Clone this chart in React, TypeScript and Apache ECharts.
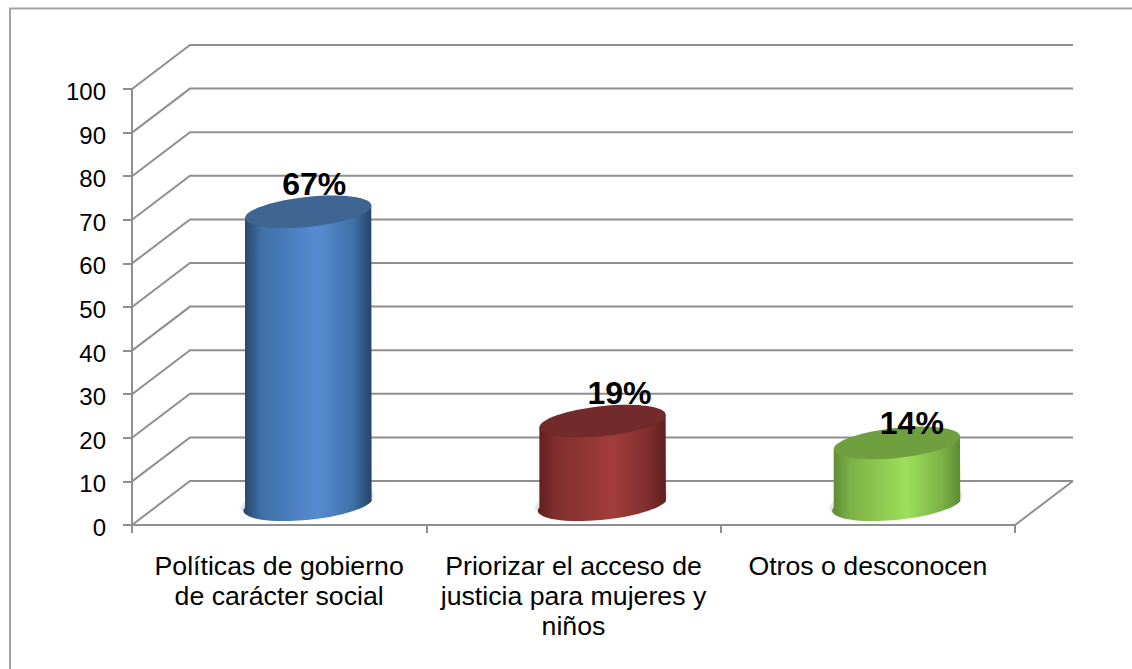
import React, { useEffect, useRef } from "react";
import * as echarts from "echarts";

const categories = [
  "Políticas de gobierno\nde carácter social",
  "Priorizar el acceso de\njusticia para mujeres y\nniños",
  "Otros o desconocen",
];
const shares = [67, 19, 14];
const wallTicks = [0, 10, 20, 30, 40, 50, 60, 70, 80, 90, 100];

const palettes = [
  { edge: "#274368", mid: "#3f70a8", light: "#578cd2", top: "#3f6693" },
  { edge: "#5f1f1e", mid: "#7f2f2e", light: "#a23d3b", top: "#722b2a" },
  { edge: "#5c8a32", mid: "#7cb146", light: "#9ddf5a", top: "#6f9f3f" },
];
const labelOffsets = [
  [6, -27],
  [17, -27],
  [15, -19],
];

const DEPTH_X = 58;
const DEPTH_Y = -44;
const GRID_COLOR = "#8f8f8f";
const FONT = '"Liberation Sans", Arial, sans-serif';

function renderWall(params: any, api: any) {
  const v = api.value(1);
  const cs = params.coordSys;
  const y = api.coord([0, v])[1];
  const x0 = cs.x;
  const x1 = cs.x + cs.width;
  const children: any[] = [
    {
      type: "polyline",
      shape: {
        points: [
          [x0, y],
          [x0 + DEPTH_X, y + DEPTH_Y],
          [x1 + DEPTH_X, y + DEPTH_Y],
        ],
      },
      style: { fill: "none", stroke: GRID_COLOR, lineWidth: 2 },
    },
  ];
  if (v === 0) {
    children.push({
      type: "line",
      shape: { x1: x1, y1: y, x2: x1 + DEPTH_X, y2: y + DEPTH_Y },
      style: { stroke: GRID_COLOR, lineWidth: 2 },
    });
  }
  return { type: "group", children };
}

function renderCylinder(params: any, api: any) {
  const i = api.value(0);
  const v = api.value(1);
  const pal = palettes[i];
  const band = api.size([1, 0])[0];
  const top = api.coord([i, v]);
  const base = api.coord([i, 0]);
  const cx = top[0] + DEPTH_X / 2;
  const topY = top[1] + DEPTH_Y / 2 + 1;
  const baseY = base[1] + DEPTH_Y / 2 - 2;
  const halfW = band * 0.2145;
  const b = 15;
  const rotDeg = 6;
  const th = (rotDeg * Math.PI) / 180;
  const s = Math.sin(th);
  const c = Math.cos(th);
  const a = Math.sqrt((halfW * halfW - b * b * s * s) / (c * c));
  const dy = ((a * a - b * b) * s * c) / halfW;
  const bodyPath =
    `M${cx - halfW} ${topY + dy}L${cx - halfW} ${baseY + dy}` +
    `A${a} ${b} ${-rotDeg} 0 0 ${cx + halfW} ${baseY - dy}L${cx + halfW} ${topY - dy}Z`;
  const off = labelOffsets[i];
  return {
    type: "group",
    children: [
      {
        type: "ellipse",
        x: cx - 1,
        y: baseY + 0.5,
        rotation: th,
        shape: { cx: 0, cy: 0, rx: a + 3, ry: b },
        style: { fill: "#e6e6e6", shadowBlur: 2, shadowColor: "rgba(190,190,190,0.6)" },
      },
      {
        type: "path",
        shape: { pathData: bodyPath },
        style: {
          fill: new echarts.graphic.LinearGradient(0, 0, 1, 0, [
            { offset: 0, color: pal.edge },
            { offset: 0.14, color: pal.mid },
            { offset: 0.58, color: pal.light },
            { offset: 0.86, color: pal.mid },
            { offset: 1, color: pal.edge },
          ]),
        },
      },
      {
        type: "ellipse",
        x: cx,
        y: topY,
        rotation: th,
        shape: { cx: 0, cy: 0, rx: a, ry: b },
        style: { fill: pal.top },
      },
      {
        type: "text",
        x: cx + off[0],
        y: topY - 1 + off[1],
        style: {
          text: `${v}%`,
          fontFamily: FONT,
          fontSize: 32,
          fontWeight: "bold",
          fill: "#000",
          align: "center",
          verticalAlign: "middle",
        },
      },
    ],
  };
}

export default function App() {
  const ref = useRef<HTMLDivElement>(null);
  useEffect(() => {
    document.body.style.margin = "0";
    const chart = echarts.init(ref.current!, null, { renderer: "svg" });
    chart.setOption({
      animation: false,
      backgroundColor: "#fff",
      graphic: [
        {
          type: "polyline",
          shape: { points: [[10, 669], [10, 8.5], [1132, 8.5]] },
          style: { fill: "none", stroke: "#a3a3a3", lineWidth: 2 },
          silent: true,
        },
      ],
      grid: { left: 132, right: 117, top: 89, bottom: 144 },
      xAxis: {
        type: "category",
        data: categories,
        boundaryGap: true,
        axisLine: { show: true, lineStyle: { color: GRID_COLOR, width: 2 } },
        axisTick: { show: true, alignWithLabel: false, length: 8, lineStyle: { color: GRID_COLOR, width: 2 } },
        axisLabel: {
          interval: 0,
          margin: 26,
          color: "#000",
          fontFamily: FONT,
          fontSize: 26.7,
          lineHeight: 30,
          verticalAlign: "top",
        },
      },
      yAxis: {
        type: "value",
        min: 0,
        max: 100,
        interval: 10,
        splitLine: { show: false },
        axisLine: { show: true, lineStyle: { color: GRID_COLOR, width: 2 } },
        axisTick: { show: true, length: 9, lineStyle: { color: GRID_COLOR, width: 2 } },
        axisLabel: {
          margin: 26,
          formatter: "{n|{value}}",
          rich: {
            n: { color: "#000", fontFamily: FONT, fontSize: 24, padding: [5, 0, 0, 0] },
          },
        },
      },
      series: [
        {
          type: "custom",
          name: "wall",
          z: 1,
          clip: false,
          silent: true,
          renderItem: renderWall,
          data: wallTicks.map((v) => [0, v]),
        },
        {
          type: "custom",
          name: "share",
          z: 3,
          clip: false,
          silent: true,
          renderItem: renderCylinder,
          data: shares.map((v, i) => [i, v]),
        },
      ],
    });
    return () => chart.dispose();
  }, []);
  return <div ref={ref} style={{ position: "absolute", left: 0, top: 0, width: 1132, height: 669 }} />;
}
